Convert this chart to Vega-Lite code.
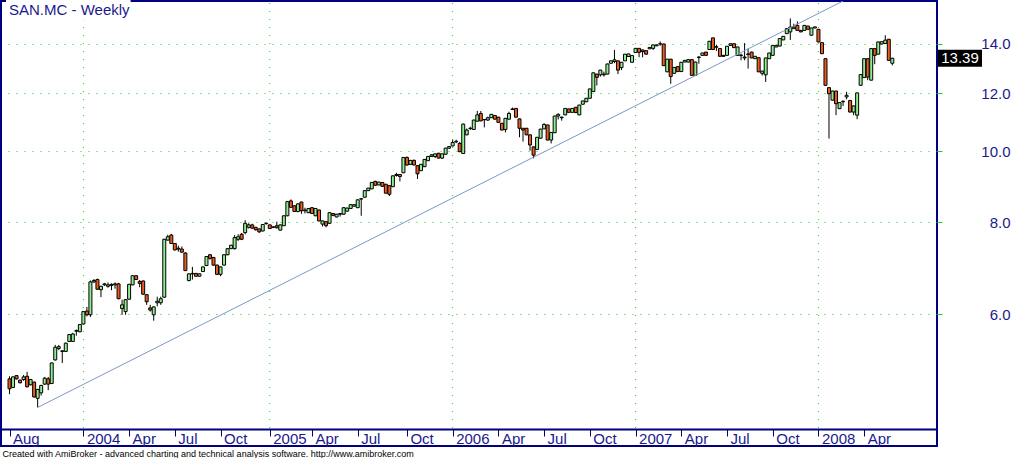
{
  "$schema": "https://vega.github.io/schema/vega-lite/v6.json",
  "width": 936,
  "height": 445,
  "autosize": {"type": "none"},
  "padding": {"left": 1, "top": 1, "right": 76, "bottom": 12},
  "background": "white",
  "config": {
    "view": {"stroke": "#000080", "strokeWidth": 2},
    "font": "Liberation Sans"
  },
  "datasets": {
    "years": [{"d": "2004-01-02"}, {"d": "2005-01-07"}, {"d": "2006-01-06"}, {"d": "2007-01-05"}, {"d": "2008-01-04"}],
    "trend": [{"d": "2003-10-03", "p": 4.48}, {"d": "2008-02-22", "p": 16.02}],
    "titlebox": [{"d1": "2003-08-01", "d2": "2004-04-05", "p1": 16.6, "p2": 15.1, "label": "SAN.MC - Weekly"}],
    "w": [
{"d":"2003-08-08","o":4.90,"h":4.94,"l":4.67,"c":4.75},
{"d":"2003-08-15","o":4.77,"h":4.94,"l":4.76,"c":4.93},
{"d":"2003-08-22","o":4.95,"h":4.96,"l":4.89,"c":4.90},
{"d":"2003-08-29","o":4.88,"h":4.89,"l":4.83,"c":4.84},
{"d":"2003-09-05","o":4.89,"h":4.96,"l":4.87,"c":4.93},
{"d":"2003-09-12","o":4.94,"h":5.01,"l":4.77,"c":4.78},
{"d":"2003-09-19","o":4.81,"h":4.90,"l":4.80,"c":4.89},
{"d":"2003-09-26","o":4.85,"h":4.86,"l":4.62,"c":4.63},
{"d":"2003-10-03","o":4.61,"h":4.75,"l":4.48,"c":4.74},
{"d":"2003-10-10","o":4.69,"h":4.81,"l":4.65,"c":4.80},
{"d":"2003-10-17","o":4.82,"h":4.93,"l":4.81,"c":4.91},
{"d":"2003-10-24","o":4.90,"h":4.93,"l":4.73,"c":4.82},
{"d":"2003-10-31","o":4.83,"h":5.16,"l":4.82,"c":5.15},
{"d":"2003-11-07","o":5.20,"h":5.45,"l":5.19,"c":5.41},
{"d":"2003-11-14","o":5.39,"h":5.45,"l":5.36,"c":5.42},
{"d":"2003-11-21","o":5.34,"h":5.36,"l":5.15,"c":5.35},
{"d":"2003-11-28","o":5.34,"h":5.49,"l":5.33,"c":5.48},
{"d":"2003-12-05","o":5.51,"h":5.64,"l":5.50,"c":5.63},
{"d":"2003-12-12","o":5.51,"h":5.66,"l":5.50,"c":5.64},
{"d":"2003-12-19","o":5.69,"h":5.72,"l":5.61,"c":5.70},
{"d":"2003-12-26","o":5.68,"h":5.82,"l":5.67,"c":5.81},
{"d":"2004-01-02","o":5.82,"h":6.06,"l":5.81,"c":6.05},
{"d":"2004-01-09","o":6.06,"h":6.14,"l":5.96,"c":5.99},
{"d":"2004-01-16","o":5.99,"h":6.67,"l":5.95,"c":6.64},
{"d":"2004-01-23","o":6.64,"h":6.70,"l":6.62,"c":6.67},
{"d":"2004-01-30","o":6.69,"h":6.71,"l":6.48,"c":6.49},
{"d":"2004-02-06","o":6.48,"h":6.56,"l":6.33,"c":6.55},
{"d":"2004-02-13","o":6.58,"h":6.62,"l":6.56,"c":6.60},
{"d":"2004-02-20","o":6.55,"h":6.63,"l":6.52,"c":6.58},
{"d":"2004-02-27","o":6.57,"h":6.61,"l":6.47,"c":6.59},
{"d":"2004-03-05","o":6.58,"h":6.63,"l":6.50,"c":6.60},
{"d":"2004-03-12","o":6.60,"h":6.62,"l":6.29,"c":6.30},
{"d":"2004-03-19","o":6.11,"h":6.28,"l":5.99,"c":6.18},
{"d":"2004-03-26","o":6.05,"h":6.29,"l":5.99,"c":6.28},
{"d":"2004-04-02","o":6.29,"h":6.60,"l":6.28,"c":6.59},
{"d":"2004-04-09","o":6.58,"h":6.78,"l":6.57,"c":6.77},
{"d":"2004-04-16","o":6.77,"h":6.78,"l":6.68,"c":6.69},
{"d":"2004-04-23","o":6.65,"h":6.68,"l":6.53,"c":6.61},
{"d":"2004-04-30","o":6.66,"h":6.67,"l":6.38,"c":6.39},
{"d":"2004-05-07","o":6.38,"h":6.39,"l":6.18,"c":6.24},
{"d":"2004-05-14","o":6.12,"h":6.18,"l":6.05,"c":6.08},
{"d":"2004-05-21","o":5.99,"h":6.15,"l":5.88,"c":6.14},
{"d":"2004-05-28","o":6.22,"h":6.34,"l":6.15,"c":6.25},
{"d":"2004-06-04","o":6.22,"h":6.34,"l":6.18,"c":6.30},
{"d":"2004-06-11","o":6.33,"h":7.60,"l":6.32,"c":7.59},
{"d":"2004-06-18","o":7.57,"h":7.70,"l":7.56,"c":7.65},
{"d":"2004-06-25","o":7.69,"h":7.72,"l":7.48,"c":7.49},
{"d":"2004-07-02","o":7.49,"h":7.50,"l":7.33,"c":7.34},
{"d":"2004-07-09","o":7.38,"h":7.44,"l":7.30,"c":7.36},
{"d":"2004-07-16","o":7.36,"h":7.42,"l":7.27,"c":7.29},
{"d":"2004-07-23","o":7.27,"h":7.29,"l":6.87,"c":6.88},
{"d":"2004-07-30","o":6.67,"h":6.82,"l":6.65,"c":6.81},
{"d":"2004-08-06","o":6.81,"h":6.96,"l":6.69,"c":6.82},
{"d":"2004-08-13","o":6.82,"h":6.83,"l":6.75,"c":6.76},
{"d":"2004-08-20","o":6.76,"h":6.82,"l":6.75,"c":6.81},
{"d":"2004-08-27","o":6.86,"h":6.97,"l":6.85,"c":6.96},
{"d":"2004-09-03","o":6.99,"h":7.20,"l":6.98,"c":7.19},
{"d":"2004-09-10","o":7.23,"h":7.25,"l":7.12,"c":7.15},
{"d":"2004-09-17","o":7.17,"h":7.18,"l":6.99,"c":7.00},
{"d":"2004-09-24","o":7.00,"h":7.01,"l":6.79,"c":6.80},
{"d":"2004-10-01","o":6.80,"h":6.97,"l":6.76,"c":6.96},
{"d":"2004-10-08","o":7.00,"h":7.24,"l":6.99,"c":7.23},
{"d":"2004-10-15","o":7.23,"h":7.38,"l":7.22,"c":7.37},
{"d":"2004-10-22","o":7.37,"h":7.46,"l":7.36,"c":7.45},
{"d":"2004-10-29","o":7.37,"h":7.69,"l":7.35,"c":7.63},
{"d":"2004-11-05","o":7.59,"h":7.71,"l":7.55,"c":7.65},
{"d":"2004-11-12","o":7.71,"h":7.74,"l":7.57,"c":7.59},
{"d":"2004-11-19","o":7.75,"h":8.06,"l":7.71,"c":7.98},
{"d":"2004-11-26","o":7.88,"h":7.98,"l":7.85,"c":7.94},
{"d":"2004-12-03","o":7.94,"h":7.97,"l":7.84,"c":7.86},
{"d":"2004-12-10","o":7.88,"h":7.89,"l":7.80,"c":7.82},
{"d":"2004-12-17","o":7.84,"h":7.85,"l":7.74,"c":7.77},
{"d":"2004-12-24","o":7.79,"h":7.96,"l":7.78,"c":7.95},
{"d":"2004-12-31","o":7.97,"h":8.00,"l":7.95,"c":7.98},
{"d":"2005-01-07","o":7.94,"h":7.95,"l":7.84,"c":7.85},
{"d":"2005-01-14","o":7.89,"h":7.90,"l":7.86,"c":7.88},
{"d":"2005-01-21","o":7.92,"h":8.02,"l":7.85,"c":7.87},
{"d":"2005-01-28","o":7.81,"h":7.95,"l":7.80,"c":7.94},
{"d":"2005-02-04","o":7.92,"h":8.18,"l":7.91,"c":8.17},
{"d":"2005-02-11","o":8.17,"h":8.56,"l":8.16,"c":8.54},
{"d":"2005-02-18","o":8.56,"h":8.60,"l":8.38,"c":8.39},
{"d":"2005-02-25","o":8.43,"h":8.44,"l":8.27,"c":8.28},
{"d":"2005-03-04","o":8.28,"h":8.50,"l":8.26,"c":8.48},
{"d":"2005-03-11","o":8.53,"h":8.54,"l":8.22,"c":8.30},
{"d":"2005-03-18","o":8.30,"h":8.38,"l":8.23,"c":8.32},
{"d":"2005-03-25","o":8.25,"h":8.37,"l":8.24,"c":8.36},
{"d":"2005-04-01","o":8.38,"h":8.39,"l":8.22,"c":8.23},
{"d":"2005-04-08","o":8.17,"h":8.37,"l":8.16,"c":8.36},
{"d":"2005-04-15","o":8.32,"h":8.33,"l":8.03,"c":8.04},
{"d":"2005-04-22","o":7.96,"h":8.05,"l":7.90,"c":8.04},
{"d":"2005-04-29","o":8.02,"h":8.03,"l":7.88,"c":7.92},
{"d":"2005-05-06","o":7.98,"h":8.26,"l":7.97,"c":8.25},
{"d":"2005-05-13","o":8.23,"h":8.24,"l":8.16,"c":8.18},
{"d":"2005-05-20","o":8.14,"h":8.22,"l":8.13,"c":8.21},
{"d":"2005-05-27","o":8.21,"h":8.24,"l":8.15,"c":8.23},
{"d":"2005-06-03","o":8.21,"h":8.39,"l":8.20,"c":8.38},
{"d":"2005-06-10","o":8.29,"h":8.38,"l":8.28,"c":8.37},
{"d":"2005-06-17","o":8.36,"h":8.47,"l":8.35,"c":8.46},
{"d":"2005-06-24","o":8.42,"h":8.47,"l":8.41,"c":8.46},
{"d":"2005-07-01","o":8.38,"h":8.60,"l":8.37,"c":8.59},
{"d":"2005-07-08","o":8.61,"h":8.63,"l":8.17,"c":8.62},
{"d":"2005-07-15","o":8.66,"h":8.85,"l":8.65,"c":8.84},
{"d":"2005-07-22","o":8.84,"h":8.92,"l":8.83,"c":8.91},
{"d":"2005-07-29","o":8.89,"h":9.08,"l":8.88,"c":9.07},
{"d":"2005-08-05","o":9.10,"h":9.12,"l":8.98,"c":8.99},
{"d":"2005-08-12","o":9.00,"h":9.09,"l":8.99,"c":9.08},
{"d":"2005-08-19","o":9.07,"h":9.08,"l":8.95,"c":8.96},
{"d":"2005-08-26","o":9.02,"h":9.03,"l":8.76,"c":8.77},
{"d":"2005-09-02","o":8.98,"h":8.99,"l":8.69,"c":8.74},
{"d":"2005-09-09","o":8.95,"h":9.27,"l":8.94,"c":9.26},
{"d":"2005-09-16","o":9.27,"h":9.35,"l":9.24,"c":9.30},
{"d":"2005-09-23","o":9.30,"h":9.31,"l":9.10,"c":9.24},
{"d":"2005-09-30","o":9.35,"h":9.82,"l":9.34,"c":9.81},
{"d":"2005-10-07","o":9.81,"h":9.84,"l":9.56,"c":9.58},
{"d":"2005-10-14","o":9.60,"h":9.73,"l":9.59,"c":9.72},
{"d":"2005-10-21","o":9.72,"h":9.75,"l":9.57,"c":9.58},
{"d":"2005-10-28","o":9.56,"h":9.57,"l":9.17,"c":9.32},
{"d":"2005-11-04","o":9.41,"h":9.61,"l":9.40,"c":9.60},
{"d":"2005-11-11","o":9.53,"h":9.76,"l":9.52,"c":9.75},
{"d":"2005-11-18","o":9.71,"h":9.85,"l":9.70,"c":9.84},
{"d":"2005-11-25","o":9.84,"h":9.91,"l":9.83,"c":9.89},
{"d":"2005-12-02","o":9.84,"h":9.93,"l":9.79,"c":9.92},
{"d":"2005-12-09","o":9.94,"h":9.95,"l":9.78,"c":9.79},
{"d":"2005-12-16","o":9.79,"h":9.93,"l":9.76,"c":9.92},
{"d":"2005-12-23","o":9.91,"h":10.11,"l":9.90,"c":10.10},
{"d":"2005-12-30","o":10.10,"h":10.16,"l":10.08,"c":10.15},
{"d":"2006-01-06","o":10.17,"h":10.37,"l":10.16,"c":10.28},
{"d":"2006-01-13","o":10.30,"h":10.37,"l":10.26,"c":10.32},
{"d":"2006-01-20","o":10.25,"h":10.30,"l":9.97,"c":9.99},
{"d":"2006-01-27","o":9.93,"h":10.91,"l":9.92,"c":10.89},
{"d":"2006-02-03","o":10.53,"h":10.74,"l":10.52,"c":10.69},
{"d":"2006-02-10","o":10.74,"h":10.80,"l":10.69,"c":10.75},
{"d":"2006-02-17","o":10.71,"h":11.04,"l":10.70,"c":11.03},
{"d":"2006-02-24","o":10.99,"h":11.35,"l":10.98,"c":11.21},
{"d":"2006-03-03","o":11.26,"h":11.35,"l":10.99,"c":11.00},
{"d":"2006-03-10","o":11.04,"h":11.06,"l":10.78,"c":11.05},
{"d":"2006-03-17","o":11.03,"h":11.15,"l":11.00,"c":11.11},
{"d":"2006-03-24","o":11.11,"h":11.24,"l":11.10,"c":11.23},
{"d":"2006-03-31","o":11.19,"h":11.20,"l":11.05,"c":11.06},
{"d":"2006-04-07","o":11.13,"h":11.14,"l":10.94,"c":10.95},
{"d":"2006-04-14","o":10.92,"h":10.93,"l":10.68,"c":10.69},
{"d":"2006-04-21","o":10.71,"h":11.10,"l":10.61,"c":11.09},
{"d":"2006-04-28","o":11.06,"h":11.32,"l":11.05,"c":11.26},
{"d":"2006-05-05","o":11.40,"h":11.47,"l":11.38,"c":11.42},
{"d":"2006-05-12","o":11.44,"h":11.45,"l":11.12,"c":11.13},
{"d":"2006-05-19","o":11.07,"h":11.08,"l":10.45,"c":10.75},
{"d":"2006-05-26","o":10.75,"h":10.76,"l":10.31,"c":10.69},
{"d":"2006-06-02","o":10.75,"h":10.76,"l":10.52,"c":10.53},
{"d":"2006-06-09","o":10.53,"h":10.54,"l":10.02,"c":10.20},
{"d":"2006-06-16","o":10.14,"h":10.15,"l":9.78,"c":9.88},
{"d":"2006-06-23","o":10.06,"h":10.46,"l":10.05,"c":10.45},
{"d":"2006-06-30","o":10.42,"h":10.73,"l":10.41,"c":10.72},
{"d":"2006-07-07","o":10.73,"h":10.92,"l":10.72,"c":10.88},
{"d":"2006-07-14","o":10.86,"h":10.87,"l":10.35,"c":10.36},
{"d":"2006-07-21","o":10.36,"h":10.62,"l":10.25,"c":10.61},
{"d":"2006-07-28","o":10.60,"h":11.18,"l":10.59,"c":11.17},
{"d":"2006-08-04","o":11.17,"h":11.26,"l":11.05,"c":11.23},
{"d":"2006-08-11","o":11.11,"h":11.15,"l":11.01,"c":11.13},
{"d":"2006-08-18","o":11.21,"h":11.45,"l":11.20,"c":11.44},
{"d":"2006-08-25","o":11.42,"h":11.43,"l":11.29,"c":11.30},
{"d":"2006-09-01","o":11.30,"h":11.45,"l":11.29,"c":11.44},
{"d":"2006-09-08","o":11.48,"h":11.49,"l":11.28,"c":11.29},
{"d":"2006-09-15","o":11.21,"h":11.57,"l":11.20,"c":11.56},
{"d":"2006-09-22","o":11.59,"h":11.72,"l":11.58,"c":11.71},
{"d":"2006-09-29","o":11.68,"h":11.82,"l":11.67,"c":11.81},
{"d":"2006-10-06","o":11.81,"h":12.17,"l":11.80,"c":12.16},
{"d":"2006-10-13","o":12.06,"h":12.80,"l":12.05,"c":12.79},
{"d":"2006-10-20","o":12.74,"h":12.75,"l":12.29,"c":12.61},
{"d":"2006-10-27","o":12.71,"h":12.91,"l":12.64,"c":12.90},
{"d":"2006-11-03","o":12.74,"h":12.84,"l":12.64,"c":12.71},
{"d":"2006-11-10","o":12.74,"h":13.16,"l":12.73,"c":13.15},
{"d":"2006-11-17","o":13.18,"h":13.29,"l":13.17,"c":13.28},
{"d":"2006-11-24","o":13.25,"h":13.74,"l":13.18,"c":13.32},
{"d":"2006-12-01","o":13.28,"h":13.29,"l":12.74,"c":12.90},
{"d":"2006-12-08","o":13.00,"h":13.23,"l":12.90,"c":13.22},
{"d":"2006-12-15","o":13.28,"h":13.57,"l":13.27,"c":13.56},
{"d":"2006-12-22","o":13.46,"h":13.58,"l":13.45,"c":13.57},
{"d":"2006-12-29","o":13.22,"h":13.51,"l":13.21,"c":13.50},
{"d":"2007-01-05","o":13.63,"h":13.82,"l":13.62,"c":13.81},
{"d":"2007-01-12","o":13.81,"h":13.82,"l":13.43,"c":13.64},
{"d":"2007-01-19","o":13.74,"h":13.75,"l":13.43,"c":13.67},
{"d":"2007-01-26","o":13.71,"h":13.72,"l":13.55,"c":13.56},
{"d":"2007-02-02","o":13.79,"h":13.86,"l":13.78,"c":13.85},
{"d":"2007-02-09","o":13.81,"h":13.97,"l":13.74,"c":13.96},
{"d":"2007-02-16","o":13.92,"h":13.97,"l":13.91,"c":13.96},
{"d":"2007-02-23","o":14.00,"h":14.11,"l":13.92,"c":14.01},
{"d":"2007-03-02","o":14.00,"h":14.01,"l":13.07,"c":13.08},
{"d":"2007-03-09","o":12.83,"h":13.36,"l":12.82,"c":13.35},
{"d":"2007-03-16","o":13.35,"h":13.36,"l":12.36,"c":12.64},
{"d":"2007-03-23","o":12.77,"h":13.02,"l":12.76,"c":13.01},
{"d":"2007-03-30","o":13.04,"h":13.05,"l":12.83,"c":12.84},
{"d":"2007-04-06","o":12.84,"h":13.23,"l":12.83,"c":13.22},
{"d":"2007-04-13","o":13.23,"h":13.31,"l":13.22,"c":13.30},
{"d":"2007-04-20","o":13.23,"h":13.34,"l":13.22,"c":13.33},
{"d":"2007-04-27","o":13.33,"h":13.34,"l":12.68,"c":12.69},
{"d":"2007-05-04","o":12.69,"h":13.24,"l":12.68,"c":13.23},
{"d":"2007-05-11","o":13.44,"h":13.47,"l":13.16,"c":13.42},
{"d":"2007-05-18","o":13.51,"h":13.62,"l":13.50,"c":13.61},
{"d":"2007-05-25","o":13.65,"h":13.66,"l":13.50,"c":13.51},
{"d":"2007-06-01","o":13.76,"h":14.13,"l":13.75,"c":14.12},
{"d":"2007-06-08","o":14.27,"h":14.28,"l":13.75,"c":13.76},
{"d":"2007-06-15","o":13.86,"h":13.97,"l":13.70,"c":13.88},
{"d":"2007-06-22","o":13.80,"h":13.81,"l":13.46,"c":13.47},
{"d":"2007-06-29","o":13.51,"h":13.52,"l":13.46,"c":13.47},
{"d":"2007-07-06","o":13.51,"h":13.91,"l":13.50,"c":13.90},
{"d":"2007-07-13","o":13.94,"h":14.02,"l":13.93,"c":14.01},
{"d":"2007-07-20","o":14.01,"h":14.02,"l":13.83,"c":13.84},
{"d":"2007-07-27","o":13.51,"h":13.88,"l":13.50,"c":13.87},
{"d":"2007-08-03","o":13.50,"h":13.58,"l":13.30,"c":13.52},
{"d":"2007-08-10","o":13.44,"h":14.04,"l":13.30,"c":13.40},
{"d":"2007-08-17","o":13.55,"h":13.80,"l":12.96,"c":13.57},
{"d":"2007-08-24","o":13.65,"h":13.66,"l":13.39,"c":13.40},
{"d":"2007-08-31","o":13.37,"h":13.48,"l":13.36,"c":13.47},
{"d":"2007-09-07","o":13.41,"h":13.42,"l":12.82,"c":12.83},
{"d":"2007-09-14","o":12.77,"h":12.87,"l":12.68,"c":12.86},
{"d":"2007-09-21","o":12.71,"h":13.41,"l":12.43,"c":13.40},
{"d":"2007-09-28","o":13.37,"h":13.62,"l":13.36,"c":13.61},
{"d":"2007-10-05","o":13.51,"h":13.95,"l":13.50,"c":13.94},
{"d":"2007-10-12","o":13.87,"h":13.95,"l":13.86,"c":13.94},
{"d":"2007-10-19","o":13.91,"h":14.25,"l":13.90,"c":14.24},
{"d":"2007-10-26","o":14.18,"h":14.35,"l":14.17,"c":14.34},
{"d":"2007-11-02","o":14.46,"h":14.70,"l":14.45,"c":14.69},
{"d":"2007-11-09","o":14.54,"h":15.17,"l":14.18,"c":14.76},
{"d":"2007-11-16","o":14.69,"h":14.92,"l":14.68,"c":14.76},
{"d":"2007-11-23","o":14.84,"h":15.03,"l":14.60,"c":14.61},
{"d":"2007-11-30","o":14.61,"h":14.62,"l":14.53,"c":14.54},
{"d":"2007-12-07","o":14.61,"h":14.85,"l":14.60,"c":14.84},
{"d":"2007-12-14","o":14.81,"h":14.82,"l":14.65,"c":14.66},
{"d":"2007-12-21","o":14.39,"h":14.73,"l":14.38,"c":14.72},
{"d":"2007-12-28","o":14.72,"h":14.78,"l":14.71,"c":14.77},
{"d":"2008-01-04","o":14.66,"h":14.67,"l":14.08,"c":14.09},
{"d":"2008-01-11","o":14.06,"h":14.07,"l":13.57,"c":13.58},
{"d":"2008-01-18","o":13.37,"h":13.38,"l":12.29,"c":12.30},
{"d":"2008-01-25","o":12.21,"h":12.22,"l":10.41,"c":11.98},
{"d":"2008-02-01","o":11.74,"h":12.09,"l":11.73,"c":12.08},
{"d":"2008-02-08","o":12.08,"h":12.09,"l":11.20,"c":11.61},
{"d":"2008-02-15","o":11.43,"h":11.66,"l":11.42,"c":11.65},
{"d":"2008-02-22","o":11.68,"h":11.73,"l":11.53,"c":11.70},
{"d":"2008-02-29","o":11.86,"h":12.05,"l":11.77,"c":11.92},
{"d":"2008-03-07","o":11.73,"h":11.74,"l":11.30,"c":11.31},
{"d":"2008-03-14","o":11.31,"h":11.54,"l":11.20,"c":11.53},
{"d":"2008-03-21","o":11.20,"h":12.02,"l":11.06,"c":12.01},
{"d":"2008-03-28","o":12.30,"h":12.73,"l":12.29,"c":12.72},
{"d":"2008-04-04","o":12.60,"h":13.38,"l":12.59,"c":13.37},
{"d":"2008-04-11","o":13.37,"h":13.38,"l":12.50,"c":12.62},
{"d":"2008-04-18","o":12.50,"h":13.81,"l":12.49,"c":13.80},
{"d":"2008-04-25","o":13.80,"h":13.81,"l":13.14,"c":13.51},
{"d":"2008-05-02","o":13.56,"h":14.10,"l":13.55,"c":14.09},
{"d":"2008-05-09","o":14.00,"h":14.11,"l":13.99,"c":14.10},
{"d":"2008-05-16","o":14.02,"h":14.39,"l":14.01,"c":14.17},
{"d":"2008-05-23","o":14.21,"h":14.22,"l":13.29,"c":13.30},
{"d":"2008-05-30","o":13.18,"h":13.40,"l":13.09,"c":13.39}
    ]
  },
  "layer": [
    {
      "data": {"name": "years"},
      "mark": {"type": "rule", "color": "#22cc22", "strokeWidth": 1, "strokeDash": [1, 7]},
      "encoding": {
        "x": {"field": "d", "type": "temporal"},
        "y": {"datum": 4.2},
        "y2": {"datum": 16.02}
      }
    },
    {
      "data": {"name": "w"},
      "mark": {"type": "rule", "color": "black", "strokeWidth": 1},
      "encoding": {
        "x": {
          "field": "d", "type": "temporal",
          "scale": {"type": "utc", "domain": [{"year": 2003, "month": 8, "date": 1, "utc": true}, {"year": 2008, "month": 8, "date": 17, "utc": true}], "nice": false},
          "axis": {
            "orient": "bottom", "offset": -17,
            "values": [
              {"year": 2003, "month": 8, "date": 8, "utc": true},
              {"year": 2004, "month": 1, "date": 2, "utc": true},
              {"year": 2004, "month": 4, "date": 2, "utc": true},
              {"year": 2004, "month": 7, "date": 2, "utc": true},
              {"year": 2004, "month": 10, "date": 1, "utc": true},
              {"year": 2005, "month": 1, "date": 7, "utc": true},
              {"year": 2005, "month": 4, "date": 1, "utc": true},
              {"year": 2005, "month": 7, "date": 1, "utc": true},
              {"year": 2005, "month": 10, "date": 7, "utc": true},
              {"year": 2006, "month": 1, "date": 6, "utc": true},
              {"year": 2006, "month": 4, "date": 7, "utc": true},
              {"year": 2006, "month": 7, "date": 7, "utc": true},
              {"year": 2006, "month": 10, "date": 6, "utc": true},
              {"year": 2007, "month": 1, "date": 5, "utc": true},
              {"year": 2007, "month": 4, "date": 6, "utc": true},
              {"year": 2007, "month": 7, "date": 6, "utc": true},
              {"year": 2007, "month": 10, "date": 5, "utc": true},
              {"year": 2008, "month": 1, "date": 4, "utc": true},
              {"year": 2008, "month": 4, "date": 4, "utc": true}
            ],
            "labelExpr": "utcFormat(datum.value, '%m') == '01' ? utcFormat(datum.value, '%Y') : utcFormat(datum.value, '%b')",
            "labelAlign": "left", "labelBaseline": "alphabetic", "labelOffset": 3, "labelPadding": 7.5,
            "labelFontSize": 15, "labelColor": "#1a1a8c", "labelFont": "Liberation Sans",
            "labelFlush": false, "labelOverlap": false, "labelBound": false,
            "tickSize": 7, "tickColor": "#000080", "tickWidth": 1,
            "domain": true, "domainColor": "#000080", "domainWidth": 2,
            "grid": false,
            "title": "Created with AmiBroker - advanced charting and technical analysis software. http://www.amibroker.com",
            "titleFontSize": 9, "titleFont": "Liberation Sans", "titleFontWeight": "normal", "titleColor": "black",
            "titleAnchor": "start", "titleAlign": "left", "titleBaseline": "alphabetic", "titleX": 1, "titleY": 27
          }
        },
        "y": {
          "field": "l", "type": "quantitative",
          "scale": {"type": "log", "domain": [3.97, 16.02], "nice": false, "zero": false},
          "axis": {
            "orient": "right", "values": [6, 8, 10, 12, 14], "format": ".1f",
            "domain": false, "ticks": true, "tickSize": 5, "tickColor": "#22cc22",
            "grid": true, "gridColor": "#22cc22", "gridDash": [1, 7], "gridWidth": 1, "gridOpacity": 1,
            "labelAlign": "right", "labelBaseline": "middle", "labelPadding": 68,
            "labelFontSize": 15, "labelColor": "#1a1a8c", "labelFont": "Liberation Sans",
            "labelFlush": false, "labelOverlap": false, "labelBound": false,
            "title": null
          }
        },
        "y2": {"field": "h"}
      }
    },
    {
      "data": {"name": "w"},
      "mark": {"type": "bar", "orient": "vertical", "size": 3, "stroke": "black", "strokeWidth": 1},
      "encoding": {
        "x": {"field": "d", "type": "temporal"},
        "y": {"field": "o", "type": "quantitative"},
        "y2": {"field": "c"},
        "fill": {"condition": {"test": "datum.c >= datum.o", "value": "#90ee90"}, "value": "#f05a1e"}
      }
    },
    {
      "data": {"name": "trend"},
      "mark": {"type": "line", "color": "#7b98c8", "strokeWidth": 1, "clip": true},
      "encoding": {
        "x": {"field": "d", "type": "temporal"},
        "y": {"field": "p", "type": "quantitative"}
      }
    },
    {
      "data": {"name": "titlebox"},
      "mark": {"type": "rect", "fill": "white"},
      "encoding": {
        "x": {"field": "d1", "type": "temporal"},
        "x2": {"field": "d2"},
        "y": {"field": "p1", "type": "quantitative"},
        "y2": {"field": "p2"}
      }
    },
    {
      "data": {"name": "titlebox"},
      "mark": {"type": "text", "color": "#1a1a8c", "fontSize": 15, "font": "Liberation Sans", "align": "left", "baseline": "alphabetic", "dx": 3, "dy": 14},
      "encoding": {
        "x": {"field": "d1", "type": "temporal"},
        "y": {"datum": 16.02},
        "text": {"field": "label"}
      }
    },
    {
      "data": {"name": "w"},
      "transform": [{"filter": {"field": "d", "equal": {"year": 2008, "month": 5, "date": 30, "utc": true}}}],
      "mark": {"type": "rect", "fill": "black", "xOffset": 1, "x2Offset": 45, "yOffset": -8.5, "y2Offset": 8.5},
      "encoding": {
        "x": {"value": "width"},
        "x2": {"value": "width"},
        "y": {"field": "c", "type": "quantitative"},
        "y2": {"field": "c"}
      }
    },
    {
      "data": {"name": "w"},
      "transform": [{"filter": {"field": "d", "equal": {"year": 2008, "month": 5, "date": 30, "utc": true}}}],
      "mark": {"type": "text", "color": "white", "fontSize": 15, "font": "Liberation Sans", "align": "center", "baseline": "middle", "dx": 23},
      "encoding": {
        "x": {"value": "width"},
        "y": {"field": "c", "type": "quantitative"},
        "text": {"field": "c", "type": "quantitative", "format": ".2f"}
      }
    }
  ]
}
